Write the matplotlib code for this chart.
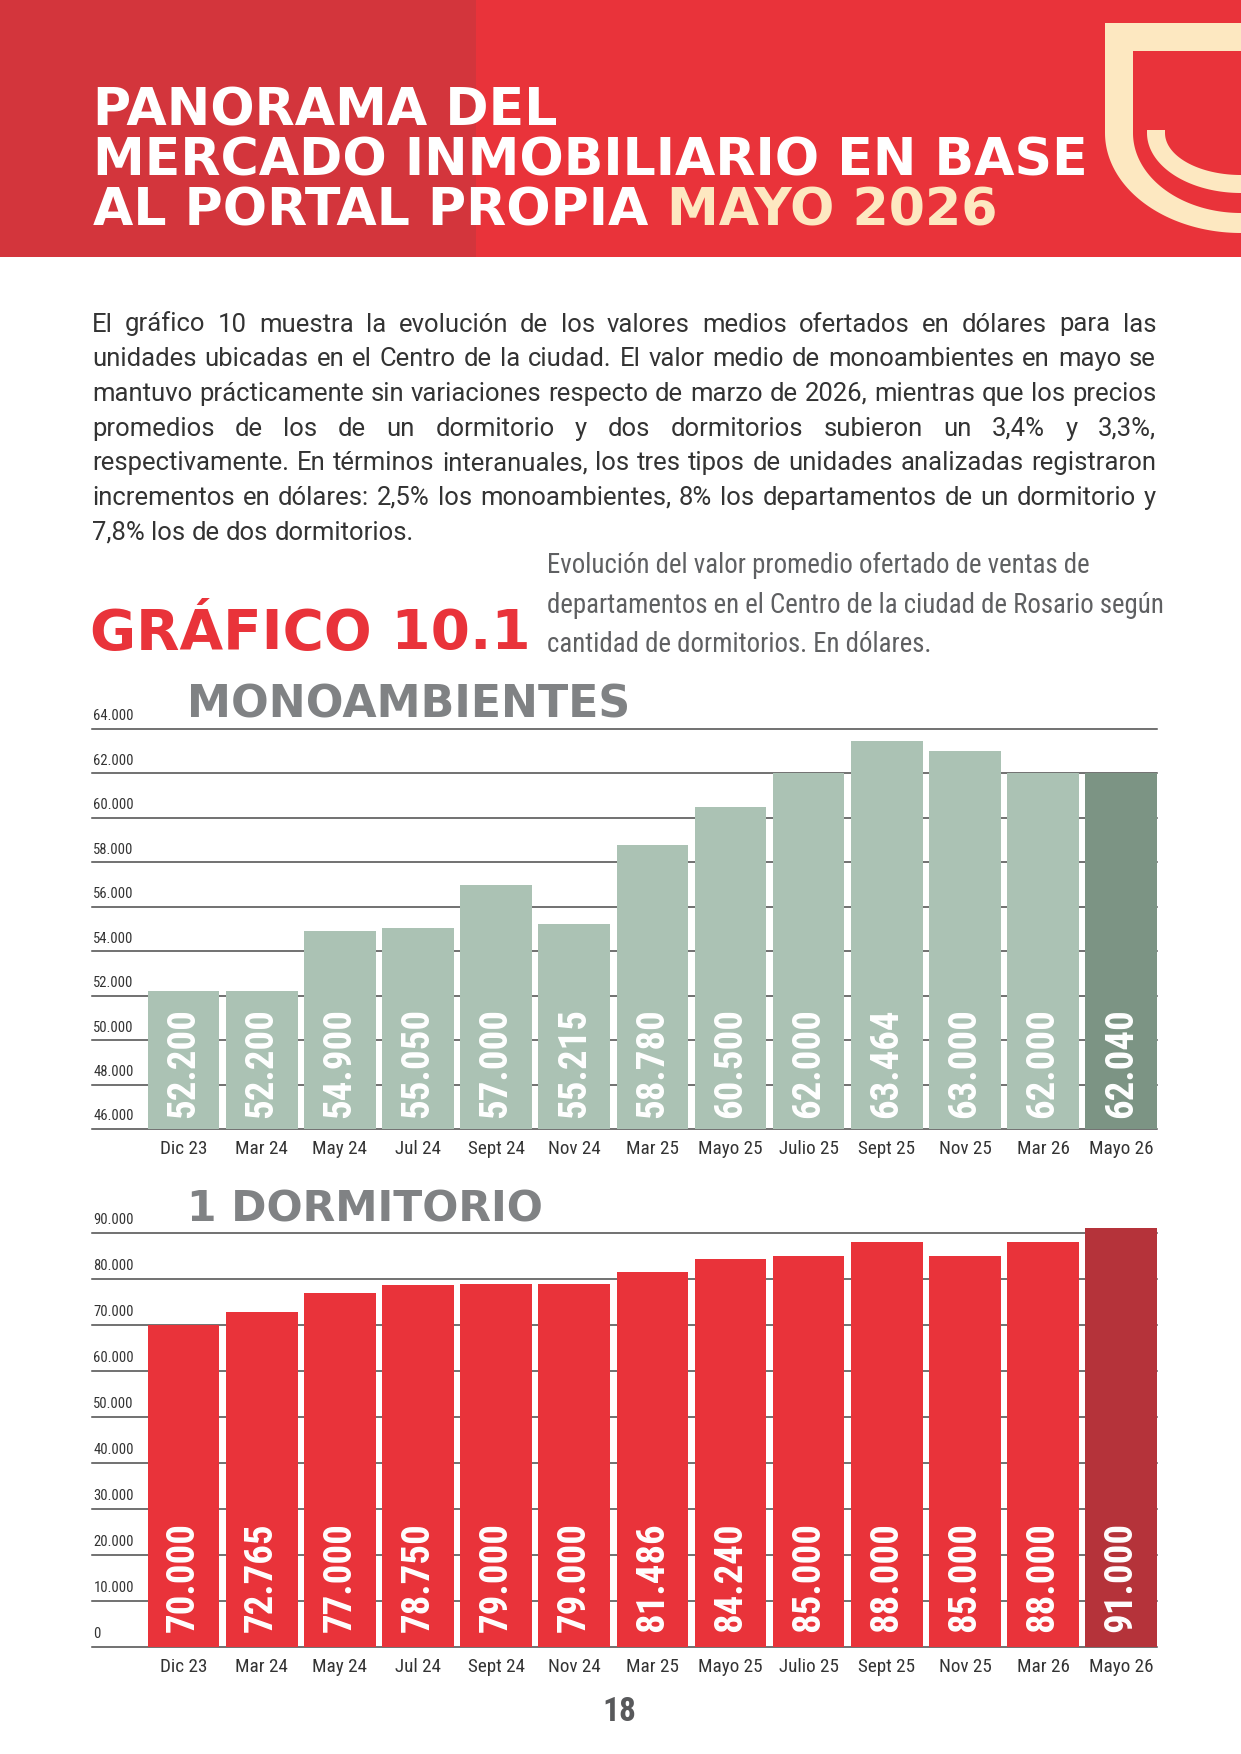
import matplotlib
matplotlib.use("Agg")
import matplotlib.pyplot as plt
from matplotlib import font_manager
from matplotlib.patches import Rectangle, Polygon
import numpy as np

W, H = 1241, 1754

periods = ["Dic 23", "Mar 24", "May 24", "Jul 24", "Sept 24", "Nov 24", "Mar 25",
           "Mayo 25", "Julio 25", "Sept 25", "Nov 25", "Mar 26", "Mayo 26"]
mono_values = [52200, 52200, 54900, 55050, 57000, 55215, 58780,
               60500, 62000, 63464, 63000, 62000, 62040]
dorm1_values = [70000, 72765, 77000, 78750, 79000, 79000, 81486,
                84240, 85000, 88000, 85000, 88000, 91000]
mono_ticks = list(range(46000, 64001, 2000))
dorm1_ticks = list(range(0, 90001, 10000))

title_lines = ["PANORAMA DEL", "MERCADO INMOBILIARIO EN BASE", "AL PORTAL PROPIA"]
title_highlight = "MAYO 2026"
chart_number = "GRÁFICO 10.1"
subtitle_lines = [
    "Evolución del valor promedio ofertado de ventas de",
    "departamentos en el Centro de la ciudad de Rosario según",
    "cantidad de dormitorios. En dólares.",
]
body_lines = [
    "El gráfico 10 muestra la evolución de los valores medios ofertados en dólares para las",
    "unidades ubicadas en el Centro de la ciudad. El valor medio de monoambientes en mayo se",
    "mantuvo prácticamente sin variaciones respecto de marzo de 2026, mientras que los precios",
    "promedios de los de un dormitorio y dos dormitorios subieron un 3,4% y 3,3%,",
    "respectivamente. En términos interanuales, los tres tipos de unidades analizadas registraron",
    "incrementos en dólares: 2,5% los monoambientes, 8% los departamentos de un dormitorio y",
    "7,8% los de dos dormitorios.",
]
chart_titles = ["MONOAMBIENTES", "1 DORMITORIO"]
page_number = "18"

RED = "#e9333a"
RED_DARK = "#b5333a"
SAGE = "#abc2b4"
SAGE_DARK = "#7c9484"
CREAM = "#fde8c1"
GREY_HEAD = "#808284"
HEAVY = ["DejaVu Sans"]

# pick a condensed face if one is installed
ttf = font_manager.fontManager.ttflist
names = {f.name for f in ttf}
NARROW = None
STRETCH = "normal"
for cand in ["Liberation Sans Narrow", "Roboto Condensed", "Open Sans Condensed",
             "Noto Sans Condensed", "Arial Narrow"]:
    if cand in names:
        NARROW = cand
        break
if NARROW is None:
    narrow_faces = [f for f in ttf if f.stretch in ("condensed", "semi-condensed",
                                                    "extra-condensed", "ultra-condensed")
                    or "Condensed" in f.name or "Narrow" in f.name]
    if narrow_faces:
        NARROW = narrow_faces[0].name
        STRETCH = "condensed"
    else:
        NARROW = "Roboto" if "Roboto" in names else "DejaVu Sans"
NARROW_KW = dict(family=[NARROW, "DejaVu Sans"], fontstretch=STRETCH)
BODY_KW = dict(family=["Roboto", "Liberation Sans", "DejaVu Sans"])

fig = plt.figure(figsize=(W / 100, H / 100), dpi=100)
renderer = fig.canvas.get_renderer()

page = fig.add_axes([0, 0, 1, 1])
page.set_xlim(0, W)
page.set_ylim(H, 0)
page.axis("off")


def fmt(v):
    return f"{v:,}".replace(",", ".")


def width_of(t):
    return t.get_window_extent(renderer).width


def fit(t, target):
    t.set_fontsize(t.get_fontsize() * target / width_of(t))
    return t


def fitted_size(s, target, **kw):
    t = page.text(0, 0, s, fontsize=20, **kw)
    size = 20 * target / width_of(t)
    t.remove()
    return size


# header band and logo
page.add_patch(Rectangle((0, 0), W, 257, color=RED, lw=0))
page.add_patch(Rectangle((0, 0), 476, 257, color="#d3353c", lw=0))


def u_shape(x0, ytop, cy, ry, color, cx=W):
    ang = np.linspace(np.pi, np.pi / 2, 60)
    arc = np.column_stack([cx + (cx - x0) * np.cos(ang), cy + ry * np.sin(ang)])
    pts = np.vstack([[x0, ytop], arc, [W + 5, cy + ry], [W + 5, ytop]])
    page.add_patch(Polygon(pts, closed=True, color=color, lw=0))


u_shape(1105, 23, 133, 100, CREAM)
u_shape(1133, 51, 133, 80, RED)
u_shape(1147, 130, 133, 60, CREAM)
u_shape(1165, 128, 133, 42, RED)

# title
t2 = fit(page.text(93, 175.5, title_lines[1], color="white", fontsize=36,
                   fontweight="bold", family=HEAVY, va="baseline"), 995)
size = t2.get_fontsize()
page.text(93, 125, title_lines[0], color="white", fontsize=size,
          fontweight="bold", family=HEAVY, va="baseline")
t3 = page.text(93, 226, title_lines[2], color="white", fontsize=size,
               fontweight="bold", family=HEAVY, va="baseline")
page.text(93 + width_of(t3) + 0.35 * size * 100 / 72, 226, title_highlight, color=CREAM,
          fontsize=size, fontweight="bold", family=HEAVY, va="baseline")

# body paragraph, justified
x_left, x_right = 92, 1156
probe = page.text(0, 0, "a a", fontsize=16, **BODY_KW)
probe2 = page.text(0, 0, "aa", fontsize=16, **BODY_KW)
space16 = width_of(probe) - width_of(probe2)
probe.remove()
probe2.remove()


def natural(line, fs):
    t = page.text(0, 0, line, fontsize=fs, **BODY_KW)
    w = width_of(t)
    t.remove()
    return w


body_size = 16 * (x_right - x_left) / max(natural(l, 16) for l in body_lines[:-1]) * 0.995
space = space16 * body_size / 16
for i, line in enumerate(body_lines):
    y = 331.5 + i * 34.7
    words = line.split()
    texts = [page.text(0, y, w, fontsize=body_size, color="#333333",
                       va="baseline", **BODY_KW) for w in words]
    widths = [width_of(t) for t in texts]
    gap = space if i == len(body_lines) - 1 else (x_right - x_left - sum(widths)) / (len(words) - 1)
    x = x_left
    for t, w in zip(texts, widths):
        t.set_x(x)
        x += w + gap

# chart number and subtitle
fit(page.text(90, 649, chart_number, color=RED, fontsize=50, fontweight="bold",
              family=HEAVY, va="baseline"), 442)
s2 = fit(page.text(547, 613, subtitle_lines[1], color="#5f6062", fontsize=26,
                   va="baseline", **NARROW_KW), 617)
for i, line in enumerate(subtitle_lines):
    if i != 1:
        page.text(547, 573 + i * 39.5, line, color="#5f6062", fontsize=s2.get_fontsize(),
                  va="baseline", **NARROW_KW)

fit(page.text(187, 717, chart_titles[0], color=GREY_HEAD, fontsize=36, fontweight="bold",
              family=HEAVY, va="baseline"), 443)
fit(page.text(187, 1221, chart_titles[1], color=GREY_HEAD, fontsize=36, fontweight="bold",
              family=HEAVY, va="baseline"), 357)

page.text(619, 1712, page_number, color="#58595b", fontsize=24, fontweight="bold",
          ha="center", va="center", **NARROW_KW)

value_size = fitted_size("52.200", 110, fontweight="bold", **NARROW_KW)
ytick_size = fitted_size("64.000", 40, **NARROW_KW)
xtick_size = fitted_size("Sept 24", 57, **NARROW_KW)


def px_axes(x0, y_top, x1, y_bot):
    return fig.add_axes([x0 / W, 1 - y_bot / H, (x1 - x0) / W, (y_bot - y_top) / H])


def draw_chart(ax, values, ticks, color, last_color, label_off):
    x = np.arange(len(values))
    colors = [color] * (len(values) - 1) + [last_color]
    base = ticks[0]
    ax.set_xlim(-1.172, 12.458)
    ax.set_ylim(base, ticks[-1])
    for t in ticks:
        ax.axhline(t, color="#4a4a4a", lw=1.1, zorder=1, clip_on=False)
        ax.annotate(fmt(t), xy=(0, t), xycoords=("axes fraction", "data"), xytext=(1, 4),
                    textcoords="offset points", ha="left", va="bottom", fontsize=ytick_size,
                    color="#333333", **NARROW_KW)
    ax.bar(x, np.array(values) - base, bottom=base, width=0.917, color=colors,
           zorder=2, clip_on=False)
    for xi, v in zip(x, values):
        ax.annotate(fmt(v), xy=(xi, base), xytext=(0, label_off), textcoords="offset points",
                    rotation=90, ha="center", va="bottom", color="white", fontsize=value_size,
                    fontweight="bold", zorder=3, **NARROW_KW)
    ax.set_xticks(x, periods)
    ax.tick_params(axis="x", length=0, pad=8, labelsize=xtick_size, labelcolor="#333333")
    for lbl in ax.get_xticklabels():
        lbl.set_family(NARROW_KW["family"])
        lbl.set_fontstretch(STRETCH)
    ax.set_yticks([])
    for s in ax.spines.values():
        s.set_visible(False)
    ax.patch.set_alpha(0)


ax1 = px_axes(92, 729, 1157, 1129)
draw_chart(ax1, mono_values, mono_ticks, SAGE, SAGE_DARK, 8)
ax2 = px_axes(92, 1233, 1157, 1647)
draw_chart(ax2, dorm1_values, dorm1_ticks, RED, RED_DARK, 11)

fig.savefig("out.png", dpi=100)
